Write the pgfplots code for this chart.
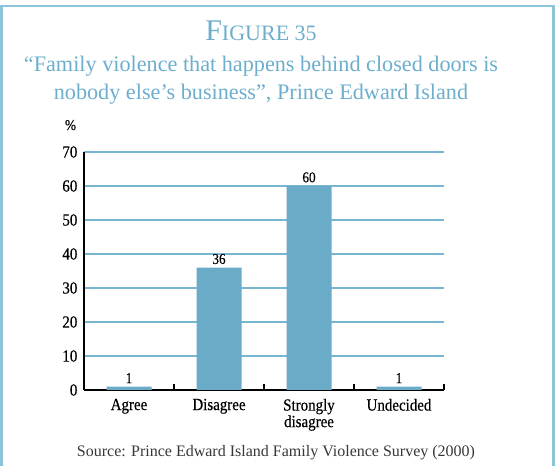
\documentclass[border=0pt]{standalone}
\usepackage{fontspec}
\setmainfont{Liberation Serif}
\newfontfamily\condfont{Liberation Serif}[FakeStretch=0.88,FakeBold=0.4]
\usepackage{pgfplots}
\pgfplotsset{compat=1.18}
\definecolor{framec}{RGB}{140,196,218}
\definecolor{titlec}{RGB}{108,174,204}
\definecolor{barc}{RGB}{106,171,200}
\definecolor{gridc}{RGB}{120,183,210}
\definecolor{srcc}{RGB}{55,55,55}
\begin{document}
\begin{tikzpicture}[x=1pt,y=1pt]
\useasboundingbox (0,0) rectangle (555,466);
\begin{scope}
\clip (0,0) rectangle (555,466);
\draw[framec, line width=2.5pt] (1.5,-5) -- (1.5,460) -- (553.5,460) -- (553.5,-5);
\end{scope}
\node[anchor=base, text=titlec, font=\fontsize{30}{30}\selectfont, inner sep=0pt] at (261,425) {F{\fontsize{22}{22}\selectfont IGURE 35}};
\node[anchor=base, text=titlec, font=\fontsize{22.2}{22}\selectfont, inner sep=0pt] at (261,394) {“Family violence that happens behind closed doors is};
\node[anchor=base, text=titlec, font=\fontsize{22.2}{22}\selectfont, inner sep=0pt] at (261,366) {nobody else’s business”, Prince Edward Island};
\node[anchor=base, font=\condfont\fontsize{15}{15}\selectfont, inner sep=0pt] at (70.5,336) {\%};
\node[anchor=base, text=srcc, font=\fontsize{16}{16}\selectfont, inner sep=0pt] at (276,9) {Source: Prince Edward Island Family Violence Survey (2000)};
\begin{axis}[
  at={(84pt,76pt)}, anchor=south west,
  scale only axis, width=360pt, height=238pt,
  xmin=-0.5, xmax=3.5, ymin=0, ymax=70,
  axis x line=bottom, axis y line=left,
  axis line style={-, black, line width=2.5pt},
  ytick={0,10,...,70},
  ytick style={draw=none},
  ymajorgrids, grid style={gridc, line width=1.5pt},
  xtick={0,1,2,3},
  xticklabels={Agree,Disagree,{Strongly\\disagree},Undecided},
  xticklabel style={align=center, yshift=-1pt},
  major x tick style={draw=none},
  extra x ticks={0.5,1.5,2.5,3.5},
  extra x tick labels={},
  extra x tick style={major x tick style={draw=black, line width=2pt}, major tick length=6pt, tick align=inside},
  ticklabel style={font=\condfont\fontsize{17}{16.5}\selectfont},
  yticklabel style={xshift=-1pt},
  /pgf/number format/assume math mode=true,
  ybar, bar width=45pt,
  nodes near coords,
  every node near coord/.append style={font=\condfont\fontsize{15}{15}\selectfont, black},
  clip=false,
]
\addplot[fill=barc, draw=none] coordinates {(0,1) (1,36) (2,60) (3,1)};
\end{axis}
\end{tikzpicture}
\end{document}
